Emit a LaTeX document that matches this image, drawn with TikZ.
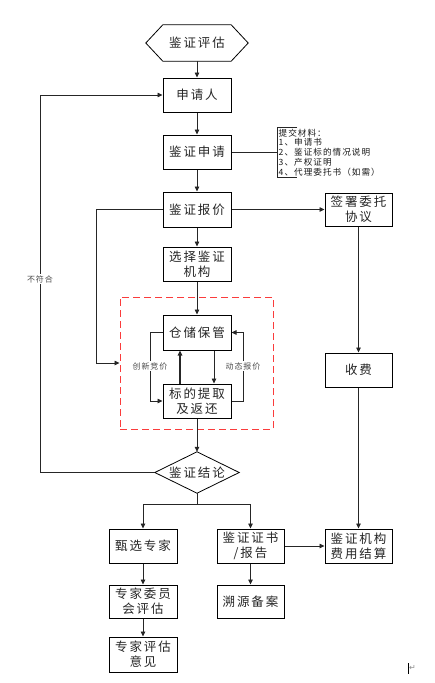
\documentclass[tikz,border=0pt]{standalone}
\usepackage{fontspec}
\setmainfont{Noto Sans CJK SC}
\newfontfamily\boxfont[LetterSpace=15]{Noto Sans CJK SC}
\newfontfamily\smallfont[LetterSpace=12]{Noto Sans CJK SC}
\newfontfamily\symfont{DejaVu Sans}
\usetikzlibrary{arrows.meta}
\definecolor{zonered}{RGB}{250,60,60}
\tikzset{
  box/.style={draw=black, line width=1pt, minimum width=68, minimum height=34, inner sep=0pt, align=center,
    font=\boxfont\fontsize{12.5}{15}\selectfont, text=black!85},
  plain/.style={minimum width=68, minimum height=34, inner sep=0pt, align=center,
    font=\boxfont\fontsize{12.5}{15}\selectfont, text=black!85},
  arr/.style={-{Triangle[length=5pt,width=4.5pt]}, line width=0.8pt, draw=black!85},
  ln/.style={line width=0.8pt, draw=black!85},
  lbl/.style={font=\smallfont\fontsize{8}{9}\selectfont, text=black!70, fill=white, inner sep=1pt},
}
\begin{document}
\begin{tikzpicture}[x=1pt,y=-1pt]
\useasboundingbox[fill=white] (0,0) rectangle (435,683);

% dashed zone
\node (zone) [draw=zonered, dashed, dash pattern=on 7pt off 4pt, line width=1pt, minimum width=153, minimum height=132, inner sep=0pt] at (196.5,363) {};

% start hexagon
\node (start) [plain, minimum width=102, minimum height=36] at (197,43) {鉴证评估};
\draw[line width=0.8pt] (start.west) -- ([xshift=17]start.north west) -- ([xshift=-17]start.north east) -- (start.east) -- ([xshift=-17]start.south east) -- ([xshift=17]start.south west) -- cycle;

\node (apply) [box] at (197,95) {申请人};
\node (req) [box] at (197,152) {鉴证申请};
\node (quote) [box, minimum height=35] at (197,209.5) {鉴证报价};
\node (choose) [box] at (197,264) {选择鉴证\\机构};
\node (store) [box, minimum height=35] at (197,332.5) {仓储保管};
\node (extract) [box] at (197,401) {标的提取\\及返还};

% conclusion diamond
\node (concl) [plain, minimum width=84, minimum height=41] at (197,472.5) {鉴证结论};
\draw[line width=0.8pt] (concl.west) -- (concl.north) -- (concl.east) -- (concl.south) -- cycle;

\node (sign) [box, minimum width=67, minimum height=33] at (358.5,209.5) {签署委托\\协议};
\node (fee) [box, minimum width=67] at (358.5,370) {收费};
\node (settle) [box, minimum width=67] at (358.5,546) {鉴证机构\\费用结算};

\node (select) [box] at (143,546) {甄选专家};
\node (committee) [box, minimum height=33] at (143,601.5) {专家委员\\会评估};
\node (opinion) [box, minimum height=35] at (143,654.5) {专家评估\\意见};
\node (cert) [box, minimum width=67] at (250.5,546) {鉴证证书\\/报告};
\node (trace) [box, minimum width=67, minimum height=33] at (250.5,601.5) {溯源备案};

% note
\node (note) [anchor=north west, align=left, inner sep=1.5pt, font=\smallfont\fontsize{8.6}{9.75}\selectfont, text=black!90] at (277,127)
  {提交材料：\\1、申请书\\2、鉴证标的情况说明\\3、产权证明\\4、代理委托书（如需）};
\draw[ln] ([xshift=20]note.north west) -- (note.north west) -- (note.south west) -- ([xshift=20]note.south west);

% main connectors
\draw[arr] (start.south) -- (apply.north);
\draw[arr] (apply.south) -- (req.north);
\draw[arr] (req.south) -- (quote.north);
\draw[arr] (quote.south) -- (choose.north);
\draw[arr] (choose.south) -- (store.north);
\draw[arr] (extract.south) -- (concl.north);
\draw[ln] (req.east) -- (note.west |- req.east);
\draw[arr] (quote.east) -- (sign.west);
\draw[arr] (sign.south) -- (fee.north);
\draw[arr] (fee.south) -- (settle.north);
\draw[arr] (quote.west) -- (96,209.5) |- (zone.west);

% inner loop
\draw[arr] (store.west) -- ++(-12,0) |- (extract.west);
\draw[arr] (extract.east) -- ++(12,0) |- (store.east);
\draw[arr, line width=1.3pt] ([xshift=-17]extract.north) -- ([xshift=-17]store.south);
\draw[arr] ([xshift=17]store.south) -- ([xshift=17]extract.north);
\node (lblA) [lbl] at (150,366) {创新竞价};
\node (lblB) [lbl] at (243,366) {动态报价};

% reject loop
\draw[arr] (concl.west) -- (40,472.5) |- (apply.west);
\node (lblC) [lbl] at (40,279) {不符合};

% branches
\coordinate (split) at (197,504);
\draw[ln] (concl.south) -- (split);
\draw[arr] (split) -| (select.north);
\draw[arr] (split) -| (cert.north);
\draw[arr] (select.south) -- (committee.north);
\draw[arr] (committee.south) -- (opinion.north);
\draw[arr] (cert.south) -- (trace.north);
\draw[arr] (cert.east) -- (settle.west);

% paragraph mark
\draw[line width=0.9pt] (408,663) -- (408,674);
\node (para) [font=\symfont\fontsize{8}{9}\selectfont, text=black!45, inner sep=0pt] at (412.5,668) {↵};
\end{tikzpicture}
\end{document}
